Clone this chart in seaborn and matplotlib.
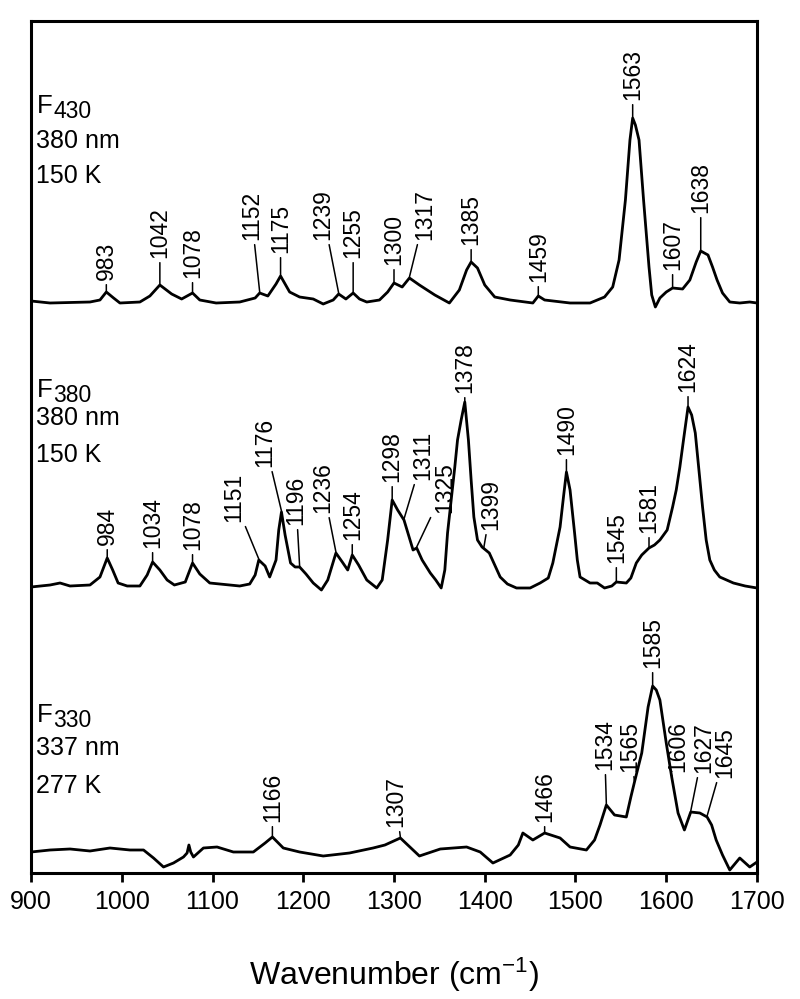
import numpy as np
import pandas as pd
import matplotlib
matplotlib.use("Agg")
import matplotlib.pyplot as plt
import seaborn as sns

# --------------------------------------
# estilo
# --------------------------------------
sns.set_style("ticks")
plt.rcParams["font.family"] = ["Liberation Sans", "DejaVu Sans"]
plt.rcParams["mathtext.fontset"] = "custom"
plt.rcParams["mathtext.rm"] = "Liberation Sans"
plt.rcParams["mathtext.default"] = "regular"
plt.rcParams["text.color"] = "black"
plt.rcParams["axes.labelcolor"] = "black"
plt.rcParams["axes.edgecolor"] = "black"
plt.rcParams["xtick.color"] = "black"
plt.rcParams["xtick.labelcolor"] = "black"

# --------------------------------------
# datos (intensidad relativa a la línea base)
# --------------------------------------
f430_wn = [900, 921, 965, 976, 983, 991, 998, 1020, 1031, 1042,
           1055, 1066, 1078, 1086, 1104, 1130, 1147, 1152, 1161, 1170,
           1175, 1185, 1196, 1211, 1222, 1233, 1239, 1247, 1255, 1262,
           1270, 1284, 1293, 1300, 1309, 1317, 1328, 1345, 1361, 1372,
           1380, 1385, 1392, 1400, 1411, 1428, 1453, 1459, 1466, 1494,
           1516, 1532, 1541, 1548, 1555, 1560, 1563, 1566, 1570, 1575,
           1581, 1584, 1588, 1593, 1600, 1607, 1618, 1626, 1633, 1638,
           1646, 1651, 1656, 1662, 1670, 1681, 1692, 1700]
f430_int = [1, -1, 0, 2, 10, 4, -1, 0, 6, 17,
            8, 3, 9, 2, -1, 0, 4, 9, 6, 18,
            26, 10, 5, 3, -2, 2, 8, 3, 9, 3,
            0, 2, 10, 19, 15, 24, 17, 7, -1, 12,
            32, 40, 34, 17, 5, 2, -1, 6, 2, -1,
            -1, 5, 15, 42, 102, 162, 184, 177, 162, 102,
            35, 7, -5, 4, 10, 14, 13, 22, 40, 51,
            47, 35, 22, 9, 0, -1, 0, -1]

f380_wn = [900, 921, 932, 943, 965, 976, 984, 990, 996, 1006,
           1020, 1028, 1034, 1042, 1050, 1058, 1070, 1078, 1086, 1097,
           1130, 1141, 1147, 1151, 1158, 1163, 1170, 1173, 1176, 1180,
           1186, 1191, 1196, 1203, 1211, 1220, 1227, 1232, 1236, 1243,
           1249, 1254, 1261, 1270, 1281, 1287, 1293, 1298, 1304, 1311,
           1316, 1321, 1325, 1331, 1340, 1346, 1352, 1356, 1359, 1363,
           1367, 1370, 1374, 1378, 1382, 1385, 1388, 1392, 1397, 1401,
           1405, 1411, 1417, 1425, 1435, 1450, 1461, 1470, 1475, 1479,
           1483, 1487, 1490, 1494, 1499, 1502, 1505, 1516, 1524, 1532,
           1540, 1545, 1556, 1561, 1567, 1573, 1581, 1587, 1593, 1601,
           1607, 1611, 1615, 1619, 1624, 1628, 1632, 1636, 1640, 1644,
           1648, 1653, 1659, 1674, 1687, 1700]
f380_int = [0, 2, 4, 1, 2, 10, 29, 17, 4, 1,
            1, 12, 25, 17, 7, 2, 5, 24, 13, 4,
            1, 3, 12, 27, 21, 10, 27, 57, 75, 52,
            24, 20, 20, 13, 4, -3, 7, 22, 34, 25,
            17, 32, 22, 7, -1, 7, 47, 87, 77, 67,
            52, 37, 39, 27, 14, 7, -1, 17, 54, 87,
            120, 147, 167, 185, 147, 107, 70, 47, 40, 37,
            34, 22, 10, 3, -1, -1, 4, 9, 24, 42,
            60, 92, 115, 97, 54, 27, 10, 4, 4, -1,
            1, 5, 4, 9, 24, 32, 39, 42, 47, 57,
            80, 97, 120, 147, 180, 172, 154, 117, 80, 47,
            27, 17, 10, 4, 1, -1]

f330_wn = [900, 921, 943, 965, 987, 1009, 1024, 1035, 1046, 1057,
           1068, 1072, 1074, 1076, 1079, 1090, 1105, 1123, 1145, 1158,
           1166, 1178, 1196, 1222, 1251, 1277, 1290, 1307, 1328, 1351,
           1380, 1395, 1409, 1428, 1437, 1442, 1453, 1466, 1483, 1494,
           1512, 1521, 1527, 1534, 1543, 1556, 1561, 1565, 1573, 1580,
           1585, 1589, 1593, 1600, 1606, 1613, 1620, 1627, 1637, 1645,
           1650, 1655, 1662, 1670, 1681, 1692, 1700]
f330_int = [0, 2, 3, 1, 4, 2, 2, -6, -15, -11,
            -5, -1, 7, 0, -5, 4, 5, 0, 0, 9,
            15, 4, 0, -4, -1, 4, 7, 14, -4, 3,
            5, 0, -11, -3, 7, 19, 12, 19, 14, 5,
            2, 12, 27, 47, 37, 35, 55, 70, 99, 145,
            166, 162, 152, 109, 75, 39, 22, 40, 39, 35,
            27, 12, -3, -18, -6, -15, -10]

# picos marcados
f430_peaks = [983, 1042, 1078, 1152, 1175, 1239, 1255, 1300, 1317, 1385, 1459, 1563, 1607, 1638]
f380_peaks = [984, 1034, 1078, 1151, 1176, 1196, 1236, 1254, 1298, 1311, 1325, 1378, 1399, 1490,
              1545, 1581, 1624]
f330_peaks = [1166, 1307, 1466, 1534, 1565, 1585, 1606, 1627, 1645]

sample_names = ["430", "380", "330"]
excitation = ["380 nm", "380 nm", "337 nm"]
temperature = ["150 K", "150 K", "277 K"]

# --------------------------------------
# disposición (desplazamientos y posiciones de etiquetas)
# --------------------------------------
offsets = [571, 286, 21]
label_x = [
    [983, 1042, 1078, 1143, 1175, 1222, 1255, 1300, 1334, 1385, 1459, 1563, 1607, 1638],
    [984, 1034, 1078, 1123, 1158, 1192, 1222, 1254, 1298, 1332, 1356, 1378, 1407, 1490,
     1545, 1581, 1624],
    [1166, 1302, 1466, 1532, 1560, 1585, 1613, 1641, 1665],
]
label_y = [
    [22, 44, 24, 62, 49, 62, 44, 37, 62, 57, 20, 202, 32, 89],
    [42, 39, 37, 65, 120, 62, 74, 47, 105, 107, 74, 194, 57, 132, 24, 54, 195],
    [30, 25, 30, 82, 80, 184, 80, 79, 74],
]
text_rows = [[760, 725, 690], [476, 448, 411], [151, 118, 80]]

spectra = [
    pd.DataFrame({"wn": f430_wn, "I": f430_int}),
    pd.DataFrame({"wn": f380_wn, "I": f380_int}),
    pd.DataFrame({"wn": f330_wn, "I": f330_int}),
]
peaks = [f430_peaks, f380_peaks, f330_peaks]

# --------------------------------------
# figura
# --------------------------------------
fig = plt.figure(figsize=(8, 9.99), dpi=100)
ax = fig.add_axes([31 / 800, 1 - 873 / 999, 726 / 800, 852.3 / 999])

for i, df in enumerate(spectra):
    df["y"] = df["I"] + offsets[i]
    sns.lineplot(data=df, x="wn", y="y", ax=ax, color="black", lw=2.0,
                 estimator=None, sort=False)

    for p, tx, ty in zip(peaks[i], label_x[i], label_y[i]):
        yc = np.interp(p, df["wn"], df["y"]) + 1
        ax.annotate(str(p), xy=(p, yc), xytext=(tx, ty + offsets[i]),
                    rotation=90, ha="center", va="bottom", fontsize=16.5,
                    arrowprops=dict(arrowstyle="-", lw=1.1, color="black",
                                    shrinkA=1, shrinkB=0))

    y1, y2, y3 = text_rows[i]
    ax.text(906, y1, "F", fontsize=18.5, va="baseline", ha="left")
    ax.annotate(sample_names[i], xy=(906, y1), xytext=(12, -3.6),
                textcoords="offset points", fontsize=16.5, va="baseline", ha="left")
    ax.text(905, y2, excitation[i], fontsize=18, va="baseline", ha="left")
    ax.text(905, y3, temperature[i], fontsize=18, va="baseline", ha="left")

ax.set_xlim(900, 1700)
ax.set_ylim(0, 852.3)
ax.set_xticks(range(900, 1701, 100))
ax.set_yticks([])
ax.set_ylabel("")
ax.set_xlabel(r"Wavenumber (cm$^{-1}$)", fontsize=23, labelpad=30)
ax.tick_params(axis="x", direction="out", length=6.5, width=2, labelsize=18, pad=6)
for s in ax.spines.values():
    s.set_linewidth(2.2)
    s.set_visible(True)

plt.savefig("out.png", dpi=100)
